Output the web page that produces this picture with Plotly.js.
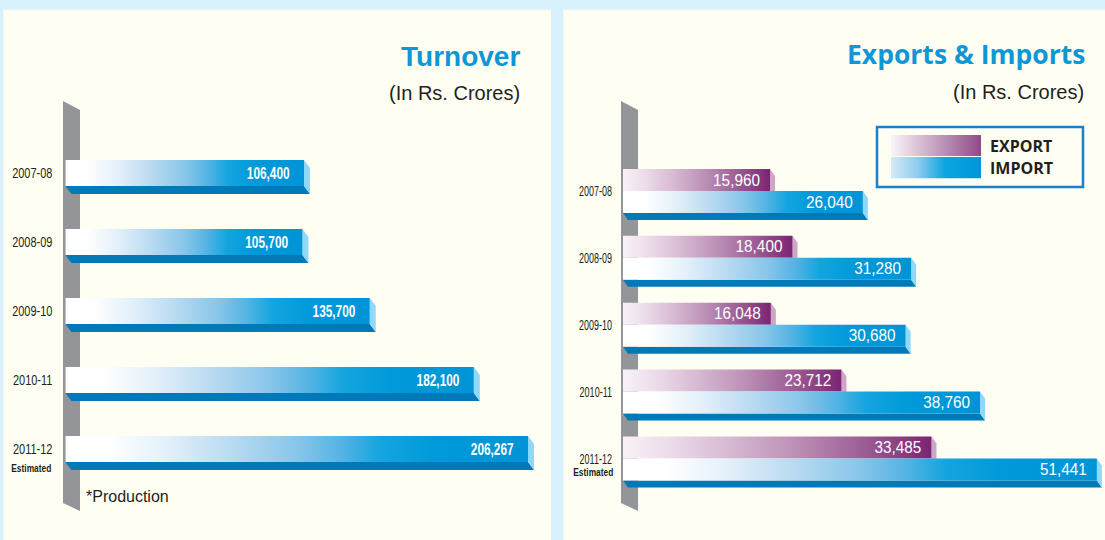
<!DOCTYPE html>
<html><head><meta charset="utf-8">
<script src="https://cdn.plot.ly/plotly-3.0.1.min.js"></script>
<style>html,body{margin:0;padding:0;background:#d9f1fc;} #chart{width:1105px;height:540px;}</style>
</head><body><div id="chart"></div>
<script>
// ---- data ----
const years = ['2007-08', '2008-09', '2009-10', '2010-11', '2011-12'];
const turnover = [106400, 105700, 135700, 182100, 206267];
const exportsRs = [15960, 18400, 16048, 23712, 33485];
const importsRs = [26040, 31280, 30680, 38760, 51441];
const estimatedNote = 'Estimated';
const productionNote = '*Production';
const leftTitle = 'Turnover';
const rightTitle = 'Exports & Imports';
const unitNote = '(In Rs. Crores)';
const seriesNames = ['EXPORT', 'IMPORT'];

// ---- geometry / style ----
const W = 1105, H = 540;
const px = x => x / W, py = y => 1 - y / H;
const SANS = 'Liberation Sans, Arial, Helvetica, sans-serif';
const OPEN = 'Open Sans, Liberation Sans, sans-serif';
const INK = '#231f20';
const NB = '\u00a0';

const L = {x0: 65.35, ppu: 0.002243, xmax: 215000, top: 138.5, bottom: 483.5, face: 26, strip: 8, dx: 6, step: 69};
const R = {x0: 623, ppu: 0.009212, top: 157.6, bottom: 491.8, face: 22, strip: 7, dx: 5, step: 66.85};
R.xmax = (W - R.x0) / R.ppu;

const COLORS = {strip: '#0079b8', sideBlue: '#8fd8f8', sidePurple: '#cba6c8', pillar: '#939598', title: '#0e97d6'};

const idx = years.map((_, i) => i);

// ---- traces ----
const wL = L.face / L.step;
const hR = R.face / R.step;
const data = [
  {type: 'bar', orientation: 'h', y: years, x: turnover, xaxis: 'x', yaxis: 'y',
   offset: -wL / 2, width: wL, marker: {color: '#0096d8', line: {width: 0}},
   texttemplate: '%{x:,}' + NB, textposition: 'inside', insidetextanchor: 'end',
   constraintext: 'none', textfont: {family: SANS, size: 16, color: '#ffffff', weight: 'bold'},
   hoverinfo: 'skip', showlegend: false, name: 'Turnover'},
  {type: 'bar', orientation: 'h', y: years, x: exportsRs, xaxis: 'x2', yaxis: 'y2',
   offset: -hR, width: hR, marker: {color: '#9a5690', line: {width: 0}},
   texttemplate: '%{x:,}' + NB, textposition: 'inside', insidetextanchor: 'end',
   constraintext: 'none', textfont: {family: SANS, size: 17, color: '#ffffff'},
   hoverinfo: 'skip', showlegend: false, name: seriesNames[0]},
  {type: 'bar', orientation: 'h', y: years, x: importsRs, xaxis: 'x2', yaxis: 'y2',
   offset: 0, width: hR, marker: {color: '#0096d8', line: {width: 0}},
   texttemplate: '%{x:,}' + NB, textposition: 'inside', insidetextanchor: 'end',
   constraintext: 'none', textfont: {family: SANS, size: 17, color: '#ffffff'},
   hoverinfo: 'skip', showlegend: false, name: seriesNames[1]}
];

// ---- shapes ----
const shapes = [
  {type: 'rect', xref: 'paper', yref: 'paper', x0: px(3.5), x1: px(551), y0: 0, y1: py(9.7),
   fillcolor: '#fffef2', line: {width: 0}, layer: 'below'},
  {type: 'rect', xref: 'paper', yref: 'paper', x0: px(563.5), x1: 1, y0: 0, y1: py(9.7),
   fillcolor: '#fffef2', line: {width: 0}, layer: 'below'}
];
function pillar(xl, xr) {
  return {type: 'path', xref: 'paper', yref: 'paper', layer: 'below', fillcolor: COLORS.pillar, line: {width: 0},
    path: `M ${px(xl)},${py(101)} L ${px(xr)},${py(110)} L ${px(xr)},${py(511)} L ${px(xl)},${py(503)} Z`};
}
shapes.push(pillar(63, 80), pillar(621, 638));

function depth(xr, yr, v, t, b, dxd, dy, sideColor, withStrip) {
  const out = [];
  if (withStrip) {
    out.push({type: 'path', xref: xr, yref: yr, layer: 'below', fillcolor: COLORS.strip, line: {width: 0},
      path: `M 0,${b} L ${v},${b} L ${v + dxd},${b + dy} L ${dxd},${b + dy} Z`});
  }
  out.push({type: 'path', xref: xr, yref: yr, layer: 'below', fillcolor: sideColor, line: {width: 0},
    path: `M ${v},${t} L ${v + dxd},${t + dy} L ${v + dxd},${b + dy} L ${v},${b} Z`});
  return out;
}
idx.forEach(i => {
  shapes.push(...depth('x', 'y', turnover[i], i - wL / 2, i + wL / 2, L.dx / L.ppu, L.strip / L.step, COLORS.sideBlue, true));
  shapes.push(...depth('x2', 'y2', exportsRs[i], i - hR, i, R.dx / R.ppu, R.strip / R.step, COLORS.sidePurple, false));
  shapes.push(...depth('x2', 'y2', importsRs[i], i, i + hR, R.dx / R.ppu, R.strip / R.step, COLORS.sideBlue, true));
});
// legend box
shapes.push({type: 'rect', xref: 'paper', yref: 'paper', x0: px(877), x1: px(1083), y0: py(187), y1: py(127),
  fillcolor: 'rgba(0,0,0,0)', line: {color: '#1a80c8', width: 2.5}, layer: 'above'});

// ---- gradients ----
const gradBlue = [[0, '#ffffff'], [0.09, '#ffffff'], [0.22, '#e3f0fa'], [0.35, '#bcdcf2'], [0.5, '#88c6ea'], [0.6, '#52b3e4'], [0.68, '#14a5df'], [0.8, '#0099da'], [1, '#0094d6']];
const gradPurple = [[0, '#f8f2f7'], [0.15, '#ecdcea'], [0.35, '#d6b8d2'], [0.55, '#bd92b7'], [0.75, '#a0649a'], [0.9, '#8a3f81'], [1, '#7c2372']];
const legPurple = [[0, '#faf5f9'], [0.3, '#dcc2d8'], [0.65, '#b486ad'], [1, '#914a87']];
const legBlue = [[0, '#d4eaf8'], [0.3, '#8ecbee'], [0.6, '#0aa6e0'], [1, '#0095d8']];
function gradSvg(stops) {
  const s = stops.map(([o, c]) => `<stop offset="${o}" stop-color="${c}"/>`).join('');
  return 'data:image/svg+xml;charset=utf-8,' + encodeURIComponent(
    `<svg xmlns="http://www.w3.org/2000/svg" width="100" height="20" viewBox="0 0 100 20" preserveAspectRatio="none"><defs><linearGradient id="g" x1="0" x2="1" y1="0" y2="0">${s}</linearGradient></defs><rect width="100" height="20" fill="url(#g)"/></svg>`);
}
const images = [
  {source: gradSvg(legPurple), xref: 'paper', yref: 'paper', x: px(891), y: py(135), sizex: 90 / W, sizey: 21 / H,
   xanchor: 'left', yanchor: 'top', sizing: 'stretch', layer: 'above'},
  {source: gradSvg(legBlue), xref: 'paper', yref: 'paper', x: px(891), y: py(157), sizex: 90 / W, sizey: 21.5 / H,
   xanchor: 'left', yanchor: 'top', sizing: 'stretch', layer: 'above'}
];

// ---- annotations ----
const annotations = [
  {xref: 'paper', yref: 'paper', x: px(522), y: py(57), xanchor: 'right', yanchor: 'middle', showarrow: false,
   text: '<b>' + leftTitle + '</b>', font: {family: SANS, size: 28, color: COLORS.title}},
  {xref: 'paper', yref: 'paper', x: px(522), y: py(93), xanchor: 'right', yanchor: 'middle', showarrow: false,
   text: unitNote, font: {family: SANS, size: 20, color: INK}},
  {xref: 'paper', yref: 'paper', x: px(1087), y: py(54), xanchor: 'right', yanchor: 'middle', showarrow: false,
   text: '<b>' + rightTitle.replace('&', '&amp;') + '</b>', font: {family: OPEN, size: 26.5, color: COLORS.title}},
  {xref: 'paper', yref: 'paper', x: px(1086), y: py(92), xanchor: 'right', yanchor: 'middle', showarrow: false,
   text: unitNote, font: {family: SANS, size: 20, color: INK}},
  {xref: 'paper', yref: 'paper', x: px(84), y: py(496), xanchor: 'left', yanchor: 'middle', showarrow: false,
   text: productionNote, font: {family: SANS, size: 16, color: INK}},
  {xref: 'paper', yref: 'y', x: px(60), y: years[4], yshift: -19, xanchor: 'right', yanchor: 'middle', showarrow: false,
   text: '<b>' + estimatedNote + '</b>', font: {family: SANS, size: 11, color: INK}},
  {xref: 'paper', yref: 'y2', x: px(622), y: years[4], yshift: -14, xanchor: 'right', yanchor: 'middle', showarrow: false,
   text: '<b>' + estimatedNote + '</b>', font: {family: SANS, size: 11, color: INK}},
  {xref: 'paper', yref: 'paper', x: px(988), y: py(146), xanchor: 'left', yanchor: 'middle', showarrow: false,
   text: '<b>' + seriesNames[0] + '</b>', font: {family: OPEN, size: 16, color: INK}},
  {xref: 'paper', yref: 'paper', x: px(988), y: py(168), xanchor: 'left', yanchor: 'middle', showarrow: false,
   text: '<b>' + seriesNames[1] + '</b>', font: {family: OPEN, size: 16, color: INK}}
];

const hiddenX = {visible: false, showgrid: false, zeroline: false, fixedrange: true};
const catY = {type: 'category', categoryorder: 'array', categoryarray: years, range: [4.5, -0.5],
  showgrid: false, zeroline: false, showline: false, ticks: 'outside', tickcolor: 'rgba(0,0,0,0)', fixedrange: true};

const layout = {
  width: W, height: H, margin: {l: 0, r: 0, t: 0, b: 0},
  paper_bgcolor: '#d9f1fc', plot_bgcolor: 'rgba(0,0,0,0)',
  barmode: 'overlay', showlegend: false, hovermode: false,
  xaxis: Object.assign({}, hiddenX, {domain: [px(L.x0), px(L.x0 + L.xmax * L.ppu)], range: [0, L.xmax], anchor: 'y'}),
  yaxis: Object.assign({}, catY, {domain: [py(L.bottom), py(L.top)], anchor: 'x', ticklen: 9,
    tickfont: {family: SANS, size: 15, color: INK}}),
  xaxis2: Object.assign({}, hiddenX, {domain: [px(R.x0), 1], range: [0, R.xmax], anchor: 'y2'}),
  yaxis2: Object.assign({}, catY, {domain: [py(R.bottom), py(R.top)], anchor: 'x2', ticklen: 7,
    tickfont: {family: SANS, size: 15, color: INK}}),
  shapes, images, annotations
};

const gd = document.getElementById('chart');
Plotly.newPlot(gd, data, layout, {staticPlot: true, displayModeBar: false}).then(() => {
  const ns = 'http://www.w3.org/2000/svg';
  const svg = gd.querySelector('svg.main-svg');
  let defs = svg.querySelector('defs');
  if (!defs) { defs = document.createElementNS(ns, 'defs'); svg.insertBefore(defs, svg.firstChild); }
  function addGrad(id, stops) {
    const lg = document.createElementNS(ns, 'linearGradient');
    lg.setAttribute('id', id);
    lg.setAttribute('x1', '0'); lg.setAttribute('x2', '1'); lg.setAttribute('y1', '0'); lg.setAttribute('y2', '0');
    stops.forEach(([o, c]) => {
      const s = document.createElementNS(ns, 'stop');
      s.setAttribute('offset', o); s.setAttribute('stop-color', c);
      lg.appendChild(s);
    });
    defs.appendChild(lg);
  }
  addGrad('gBlue', gradBlue);
  addGrad('gPurple', gradPurple);
  const paint = (traceEl, id) => traceEl && traceEl.querySelectorAll('path').forEach(p => { p.style.fill = `url(#${id})`; });
  const leftTraces = gd.querySelectorAll('.subplot.xy .barlayer .trace');
  const rightTraces = gd.querySelectorAll('.subplot.x2y2 .barlayer .trace');
  paint(leftTraces[0], 'gBlue');
  paint(rightTraces[0], 'gPurple');
  paint(rightTraces[1], 'gBlue');

  // condensed lettering, as in the original (Helvetica Condensed look)
  const condense = (el, f) => {
    const len = el.getComputedTextLength();
    el.setAttribute('textLength', (len * f).toFixed(1));
    el.setAttribute('lengthAdjust', 'spacingAndGlyphs');
  };
  gd.querySelectorAll('g.ytick text').forEach(t => condense(t, 0.73));
  gd.querySelectorAll('g.y2tick text').forEach(t => condense(t, 0.6));
  if (leftTraces[0]) leftTraces[0].querySelectorAll('text').forEach(t => condense(t, 0.74));
  [rightTraces[0], rightTraces[1]].forEach(tr => tr && tr.querySelectorAll('text').forEach(t => condense(t, 0.9)));
  gd.querySelectorAll('g.annotation[data-index="5"] text, g.annotation[data-index="6"] text').forEach(t => condense(t, 0.76));
});
</script>
</body></html>
